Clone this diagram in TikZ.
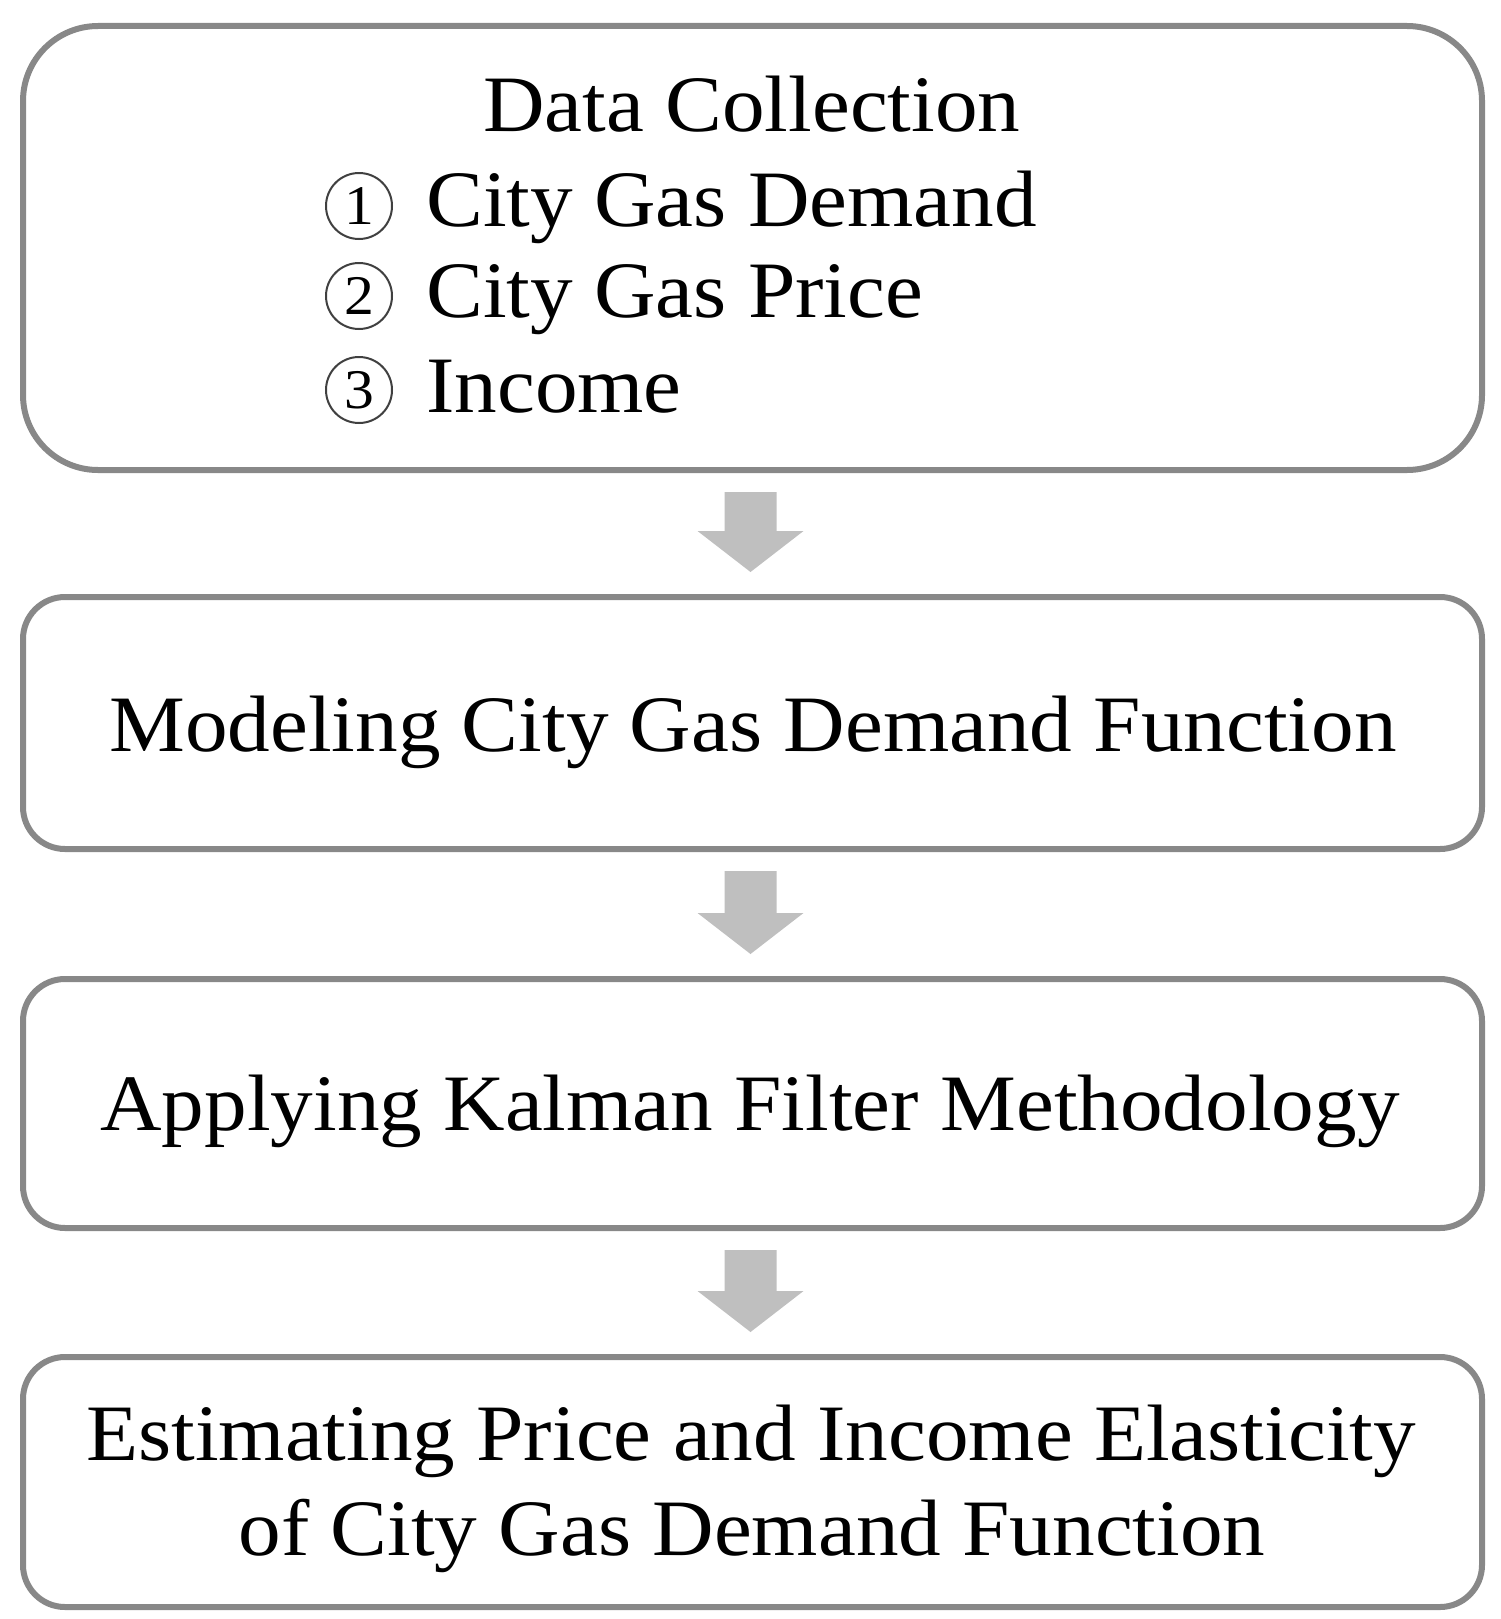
\documentclass[tikz,border=0pt]{standalone}
\usepackage{fontspec}
\setmainfont[FakeStretch=1.065]{Liberation Serif}
\usetikzlibrary{calc}
\definecolor{boxgray}{HTML}{888888}
\definecolor{arrowgray}{HTML}{BFBFBF}
\newcommand\mybarrow[2]{%
  \fill[arrowgray] ($(#1.south)+(-28,22)$) -- ($(#1.south)+(24,22)$)
    -- ($(#2.north)+(24,-66)$) -- ($(#2.north)+(51,-66)$)
    -- ($(#2.north)+(-2,-25)$) -- ($(#2.north)+(-55,-66)$)
    -- ($(#2.north)+(-28,-66)$) -- cycle;}
\begin{document}
\begin{tikzpicture}[x=1pt,y=-1pt,
  box/.style={draw=boxgray, line width=6pt, fill=white, rectangle, outer sep=0pt,
    inner sep=0pt, minimum width=1459pt},
  lbl/.style={anchor=base, inner sep=0pt, font=\fontsize{80}{94}\selectfont},
  num/.style={circle, draw=black!75, line width=2pt, minimum size=66pt, inner sep=0pt,
    font=\fontsize{56}{56}\selectfont}]
\useasboundingbox (0,0) rectangle (1501,1619);
\node[box, rounded corners=75pt, minimum height=444pt] (b1) at (752.5,248) {};
\node[box, rounded corners=42pt, minimum height=252pt] (b2) at (752.5,723) {};
\node[box, rounded corners=42pt, minimum height=249pt] (b3) at (752.5,1103.5) {};
\node[box, rounded corners=42pt, minimum height=250pt] (b4) at (752.5,1482) {};
\node[lbl] (t1) at (752,131) {Data Collection};
\node[lbl, anchor=base west] (l1) at (426,226) {City Gas Demand};
\node[lbl, anchor=base west] (l2) at (426,317) {City Gas Price};
\node[lbl, anchor=base west] (l3) at (426,412) {Income};
\node[num] (n1) at (359,206) {1};
\node[num] (n2) at (359,296) {2};
\node[num] (n3) at (359,390) {3};
\node[lbl] (t2) at (753,751) {Modeling City Gas Demand Function};
\node[lbl] (t3) at (750,1130) {Applying Kalman Filter Methodology};
\node[lbl] (t4a) at (751,1460) {Estimating Price and Income Elasticity};
\node[lbl] (t4b) at (752,1555) {of City Gas Demand Function};
\mybarrow{b1}{b2}
\mybarrow{b2}{b3}
\mybarrow{b3}{b4}
\end{tikzpicture}
\end{document}
